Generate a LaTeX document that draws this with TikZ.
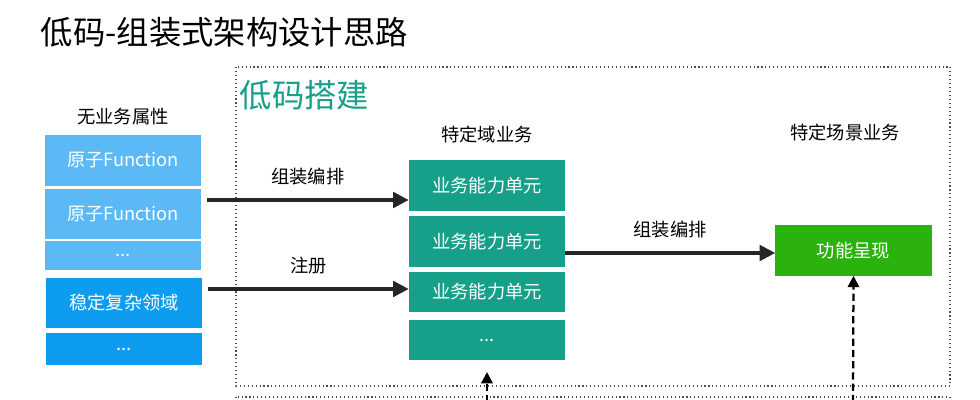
\documentclass[tikz,border=0pt]{standalone}
\usepackage{fontspec}
\setmainfont{Noto Sans CJK SC}
\usepackage{tikz}
\usetikzlibrary{arrows.meta,positioning}
\definecolor{atomblue}{HTML}{5BBAF6}
\definecolor{stableblue}{HTML}{0D9CF0}
\definecolor{unitteal}{HTML}{17A089}
\definecolor{showgreen}{HTML}{2BB20E}

\begin{document}
\begin{tikzpicture}[x=0.025cm, y=-0.025cm,
  blk/.style={minimum width=3.9cm, minimum height=1.25cm, text=white, font=\fontsize{13}{15}\selectfont, inner sep=0pt},
  atom/.style={blk, fill=atomblue},
  stable/.style={blk, fill=stableblue},
  unit/.style={blk, fill=unitteal},
  lab/.style={font=\fontsize{13}{15}\selectfont},
  arr/.style={-{Triangle[length=11pt,width=11pt]}, line width=2.4pt, black!85},
  dsh/.style={-{Triangle[length=8pt,width=8pt]}, line width=1.6pt, dashed, dash pattern=on 5pt off 3pt}
]
\useasboundingbox (0,0) rectangle (980,400);
\clip (0,0) rectangle (980,400);

\node[anchor=west, font=\fontsize{23}{26}\selectfont] (title) at (36,32) {低码-组装式架构设计思路};

% dotted frames
\draw[dotted, thick, black!70] (236,67) rectangle (950,386);
\draw[dotted, thick, black!70] (236,397) rectangle (950,460);
\node[anchor=west, text=unitteal, font=\fontsize{23}{26}\selectfont] (lowcode) at (235,95) {低码搭建};

% left column
\node[lab] (nobiz) at (123,117) {无业务属性};
\node[atom, minimum height=1.27cm] (a1) at (123,160.5) {原子Function};
\node[atom, minimum height=1.25cm] (a2) at (123,214) {原子Function};
\node[atom, minimum height=0.72cm] (a3) at (123,255.5) {...};
\node[stable, minimum height=1.25cm] (s1) at (124,303) {稳定复杂领域};
\node[stable, minimum height=0.8cm] (s2) at (124,349) {...};

% middle column
\node[lab] (domain) at (487,135) {特定域业务};
\node[unit] (u1) at (487,185.5) {业务能力单元};
\node[unit] (u2) at (487,241.5) {业务能力单元};
\node[unit, minimum height=1cm] (u3) at (487,292) {业务能力单元};
\node[unit, minimum height=1cm] (u4) at (487,340) {...};

% right column
\node[lab] (scene) at (845,133) {特定场景业务};
\node[blk, fill=showgreen] (show) at (853.5,250.5) {功能呈现};

% arrows
\coordinate (c1) at (207,200);
\coordinate (c2) at (208,289);
\draw[arr] (c1) -- (c1 -| u1.west) node[midway, above=6pt, lab, text=black] {组装编排};
\draw[arr] (c2) -- (c2 -| u3.west) node[midway, above=6pt, lab, text=black] {注册};
\draw[arr] (u2.east |- 0,253) -- (show.west |- 0,253) node[midway, above=6pt, lab, text=black] {组装编排};

\coordinate (b1) at (487,402);
\coordinate (b2) at (853,402);
\draw[dsh] (b1) -- (487,372);
\draw[dsh] (b2) -- (show.south);
\end{tikzpicture}
\end{document}
